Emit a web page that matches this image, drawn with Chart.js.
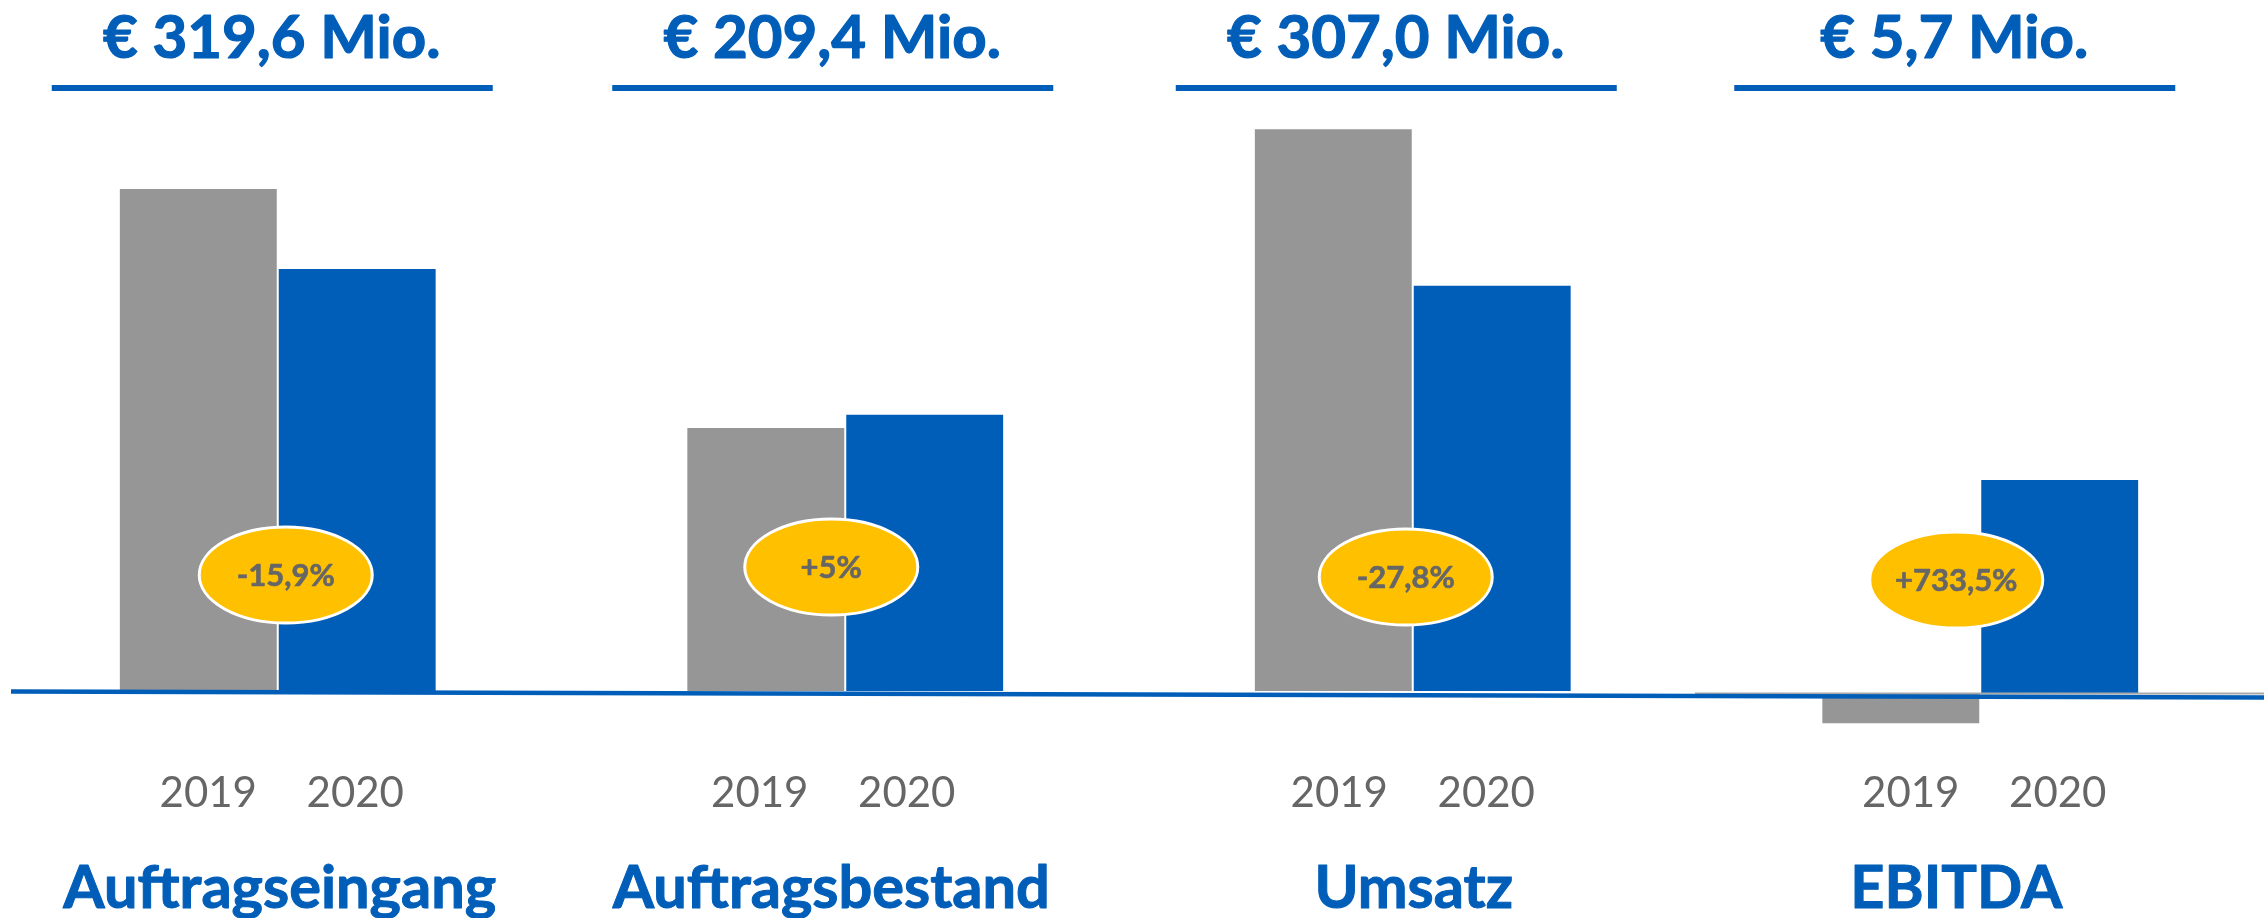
<!DOCTYPE html>
<html><head><meta charset="utf-8">
<script src="https://cdn.jsdelivr.net/npm/chart.js@4.4.1/dist/chart.umd.min.js"></script>
<style>html,body{margin:0;padding:0;background:#fff;overflow:hidden}#wrap{position:relative;width:2264px;height:918px;overflow:hidden}#c{position:absolute;left:-6px;top:0}</style>
</head><body><div id="wrap"><canvas id="c" width="2270" height="918"></canvas></div>
<script>
// ---- data ----
const categories = ['Auftragseingang', 'Auftragsbestand', 'Umsatz', 'EBITDA'];
const yearLabels = ['2019', '2020'];
const values2019 = [380.0, 199.4, 425.2, null];   // € Mio.
const values2020 = [319.6, 209.4, 307.0, null];   // € Mio.
const ebitda2019 = [null, null, null, -0.82];     // € Mio.
const ebitda2020 = [null, null, null, 5.7];       // € Mio.
const headlineLabels = ['€ 319,6 Mio.', '€ 209,4 Mio.', '€ 307,0 Mio.', '€ 5,7 Mio.'];
const changeLabels = ['-15,9%', '+5%', '-27,8%', '+733,5%'];

// ---- styles / annotation layout ----
const BLUE = '#005EB8';
const GRAY = '#969696';
const YELLOW = '#FFC000';
const TEXTGRAY = '#666666';
const FONT = 'Lato, "Open Sans", sans-serif';
const headShift = [-6, -13, -17, -26];
const ellipseShift = [8, -14, -7, -24];
const ellipseY = [575, 567, 577, 580];
const labelShift = [2, -14, 1, -24];
const yearShift = [4, -12, 0, 4];

function heavyText(ctx, txt, x, y, color, w) {
  ctx.fillStyle = color;
  ctx.strokeStyle = color;
  ctx.lineWidth = w;
  ctx.lineJoin = 'round';
  ctx.strokeText(txt, x, y);
  ctx.fillText(txt, x, y);
}

const annot = {
  id: 'annot',
  afterDatasetsDraw(chart) {
    const ctx = chart.ctx;
    const W = chart.width;
    const y0 = chart.scales.y.getPixelForValue(0);
    const y2z = chart.scales.y2.getPixelForValue(0);
    ctx.save();
    // EBITDA axis line (gray)
    ctx.strokeStyle = '#a8a8a8';
    ctx.lineWidth = 2;
    ctx.beginPath();
    ctx.moveTo(1701, y2z);
    ctx.lineTo(W, y2z);
    ctx.stroke();
    // main baseline (blue, slightly sloped as in the original)
    ctx.strokeStyle = BLUE;
    ctx.lineWidth = 4.5;
    ctx.beginPath();
    ctx.moveTo(17, y0 + 0.5);
    ctx.lineTo(W, y0 + 6.5);
    ctx.stroke();

    for (let i = 0; i < categories.length; i++) {
      const a = i < 3 ? 0 : 2;
      const g = chart.getDatasetMeta(a).data[i];
      const b = chart.getDatasetMeta(a + 1).data[i];
      const cx = (g.x + b.x) / 2;
      ctx.textAlign = 'center';
      ctx.textBaseline = 'alphabetic';
      // headline + underline
      const hx = cx + headShift[i];
      ctx.font = 'bold 60px ' + FONT;
      heavyText(ctx, headlineLabels[i], hx, 58, BLUE, 1.2);
      ctx.fillRect(hx - 220, 85, 441, 6);
      // year labels
      const yx = cx + yearShift[i];
      ctx.fillStyle = TEXTGRAY;
      ctx.font = '42px ' + FONT;
      ctx.fillText(yearLabels[0], yx - 73.5, 807);
      ctx.fillText(yearLabels[1], yx + 73.5, 807);
      // category label
      ctx.font = 'bold 59.5px ' + FONT;
      heavyText(ctx, categories[i], cx + labelShift[i], 908, BLUE, 1.0);
      // change ellipse
      const ex = cx + ellipseShift[i];
      const ey = ellipseY[i];
      ctx.beginPath();
      ctx.ellipse(ex, ey, 86.5, 48, 0, 0, Math.PI * 2);
      ctx.fillStyle = YELLOW;
      ctx.fill();
      ctx.lineWidth = 3;
      ctx.strokeStyle = '#ffffff';
      ctx.stroke();
      ctx.font = 'bold 31px ' + FONT;
      ctx.textBaseline = 'middle';
      heavyText(ctx, changeLabels[i], ex, ey + 1, TEXTGRAY, 0.6);
    }
    ctx.restore();
  }
};

function build() {
  new Chart(document.getElementById('c'), {
    type: 'bar',
    data: {
      labels: categories,
      datasets: [
        { label: yearLabels[0], data: values2019, yAxisID: 'y', backgroundColor: GRAY },
        { label: yearLabels[1], data: values2020, yAxisID: 'y', backgroundColor: BLUE },
        { label: 'EBITDA ' + yearLabels[0], data: ebitda2019, yAxisID: 'y2', backgroundColor: GRAY },
        { label: 'EBITDA ' + yearLabels[1], data: ebitda2020, yAxisID: 'y2', backgroundColor: BLUE }
      ]
    },
    options: {
      responsive: false,
      animation: false,
      devicePixelRatio: 1,
      layout: { padding: 0 },
      skipNull: true,
      datasets: { bar: { categoryPercentage: 0.56, barPercentage: 1.0, borderWidth: 1, borderColor: 'rgba(255,255,255,0.6)', borderSkipped: 'start' } },
      plugins: { legend: { display: false }, tooltip: { enabled: false } },
      scales: {
        x: { type: 'category', display: false, offset: true },
        y: { display: false, min: -171.5, max: 522.1 },
        y2: { display: false, min: -5.966, max: 18.43, position: 'right' }
      }
    },
    plugins: [annot]
  });
}
if (document.fonts && document.fonts.load) {
  Promise.all([document.fonts.load('bold 60px Lato'), document.fonts.load('42px Lato')]).then(build, build);
} else build();
</script>
</body></html>
